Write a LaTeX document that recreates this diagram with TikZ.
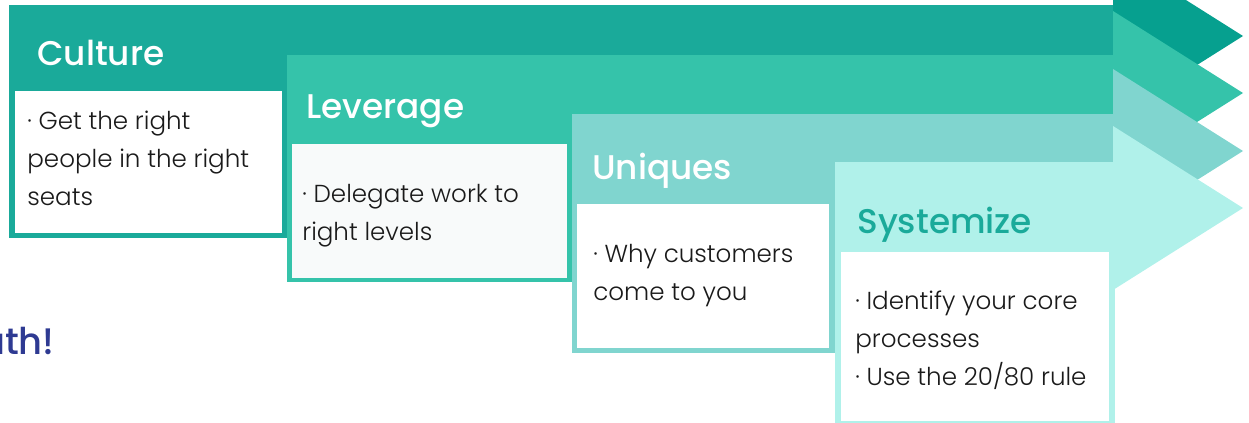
\documentclass[tikz,border=0pt]{standalone}
\usepackage{fontspec}
\setmainfont{Poppins Light}
\newfontfamily\headfont{Poppins Medium}
\definecolor{culture}{HTML}{1AAA9A}
\definecolor{culturetip}{HTML}{06A08F}
\definecolor{leverage}{HTML}{35C3AA}
\definecolor{uniques}{HTML}{80D5CF}
\definecolor{systemize}{HTML}{B0F1EA}
\definecolor{paper}{HTML}{F8FAFA}
\definecolor{ink}{HTML}{1A1A1A}
\definecolor{navy}{HTML}{2E3A92}

\begin{document}
\begin{tikzpicture}[x=0.02cm, y=-0.02cm, every node/.style={inner sep=0pt, anchor=base west}, head/.style={font=\headfont\fontsize{19.5}{23}\selectfont, text=white}, body/.style={font=\fontsize{14}{21.6}\selectfont, text=ink, align=left}]
	\useasboundingbox (0,0) rectangle (1249,423);
	% Culture
	\fill[culturetip] (1113,-46) -- (1243,36) -- (1113,118) -- cycle;
	\fill[culture] (9,5) rectangle (1113,238);
	\fill[white] (15,91) rectangle (282,233);
	% Leverage
	\fill[leverage] (1113,11) -- (1243,93) -- (1113,175) -- cycle;
	\fill[leverage] (287,55) rectangle (1113,282);
	\fill[paper] (292,144) rectangle (567,278);
	% Uniques
	\fill[uniques] (1113,69) -- (1243,151) -- (1113,233) -- cycle;
	\fill[uniques] (572,114) rectangle (1113,353);
	\fill[white] (577,204) rectangle (829,348);
	% Systemize
	\fill[systemize] (1113,126) -- (1243,208) -- (1113,290) -- cycle;
	\fill[systemize] (835,162) rectangle (1115,430);
	\fill[white] (841,252) rectangle (1109,421);
	\node[head] (t1) at (37,65) {Culture};
	\node[head] (t2) at (306,118) {Leverage};
	\node[head] (t3) at (592,179) {Uniques};
	\node[head, text=culture] (t4) at (857,233) {Systemize};
	% base anchor = last line
	\node[body] (b1) at (27,205) {· Get the right\\people in the right\\seats};
	\node[body] (b2) at (302,240) {· Delegate work to\\right levels};
	\node[body] (b3) at (593,300) {· Why customers\\come to you};
	\node[body] (b4) at (855,385) {· Identify your core\\processes\\· Use the 20/80 rule};
	\node[font=\headfont\fontsize{21}{25}\selectfont, text=navy, anchor=base east] (cta) at (55,354) {ath!};
\end{tikzpicture}
\end{document}
